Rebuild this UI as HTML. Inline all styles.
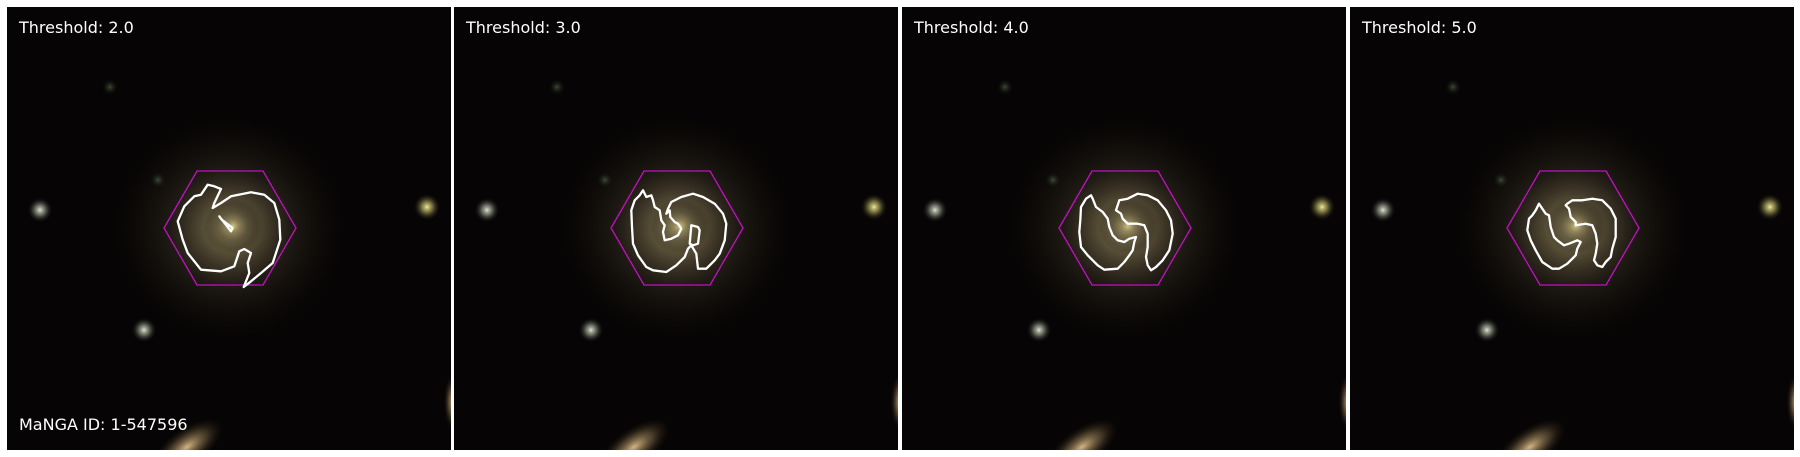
<!DOCTYPE html>
<html><head><meta charset="utf-8"><style>
html,body{margin:0;padding:0;background:#fff;width:1800px;height:457px;overflow:hidden}
svg{display:block}
text{font-family:"DejaVu Sans","Liberation Sans",sans-serif;fill:#fff;font-size:16px}
</style></head><body>
<svg id="fig" width="1800" height="457" viewBox="0 0 1800 457">
<defs>
<radialGradient id="gal" cx="0.5" cy="0.5" r="0.5">
<stop offset="0" stop-color="#d8cc88" stop-opacity="0.85"/>
<stop offset="0.2" stop-color="#8a7c56" stop-opacity="0.65"/>
<stop offset="0.5" stop-color="#3e3628" stop-opacity="0.45"/>
<stop offset="0.8" stop-color="#1e1812" stop-opacity="0.25"/>
<stop offset="1" stop-color="#100c0a" stop-opacity="0"/>
</radialGradient>
<radialGradient id="starW"><stop offset="0" stop-color="#e0e4d0"/><stop offset="0.4" stop-color="#8a9080" stop-opacity="0.7"/><stop offset="1" stop-color="#000" stop-opacity="0"/></radialGradient>
<radialGradient id="starY"><stop offset="0" stop-color="#f0ec98"/><stop offset="0.4" stop-color="#a09858" stop-opacity="0.7"/><stop offset="1" stop-color="#000" stop-opacity="0"/></radialGradient>
<radialGradient id="faint"><stop offset="0" stop-color="#4a5a40" stop-opacity="0.8"/><stop offset="1" stop-color="#000" stop-opacity="0"/></radialGradient>
<radialGradient id="edge"><stop offset="0" stop-color="#e0c088" stop-opacity="0.95"/><stop offset="0.5" stop-color="#7a6444" stop-opacity="0.55"/><stop offset="1" stop-color="#000" stop-opacity="0"/></radialGradient>
</defs>
</svg>
<script>
const thresholds = ["2.0","3.0","4.0","5.0"];
const mangaId = "1-547596";
const panelX = [7,454,902,1350];
// contour vertices (zoomed 3x coordinates), hex center at contourCenter
const contourCenter = [[687,685],[232,203],[232,203],[232,203]];
const contour1 = [[[600,585],[620,555],[640,560],[660,568],[640,610],[635,625],[660,610],[690,590],[750,578],[790,585],[820,610],[835,660],[838,720],[815,790],[780,820],[750,845],[728,862],[745,820],[740,790],[750,760],[730,748],[715,755],[700,800],[660,815],[600,810],[560,760],[545,720],[530,665],[550,620],[580,590]],
 [[655,650],[690,695],[695,685],[662,660]]];
const contour2 = [[[130,90],[120,105],[105,120],[95,150],[97,200],[100,250],[115,285],[140,320],[160,330],[200,335],[230,315],[255,290],[265,265],[275,255],[290,280],[295,325],[320,325],[345,300],[360,280],[375,240],[380,190],[370,160],[345,130],[310,110],[280,100],[245,110],[215,125],[205,145],[200,160],[210,150],[212,170],[225,185],[235,190],[245,205],[235,225],[215,235],[195,240],[190,215],[195,195],[185,180],[180,150],[165,140],[160,120],[155,105],[140,110]],
 [[275,195],[270,250],[280,255],[295,250],[300,210],[295,200]]];
const contour3 = [[[130,105],[115,115],[100,140],[98,180],[95,215],[100,260],[120,285],[150,315],[170,328],[210,325],[230,305],[245,285],[255,270],[260,245],[265,230],[245,235],[230,245],[210,240],[195,225],[185,200],[180,175],[165,155],[145,140],[135,115]],
 [[210,135],[205,150],[220,160],[225,175],[240,190],[270,190],[290,195],[300,220],[300,260],[295,290],[300,315],[310,330],[325,320],[345,300],[365,270],[375,220],[370,180],[355,150],[330,120],[300,105],[270,100],[240,115],[215,120]]];
const contour4 = [[[130,130],[120,150],[110,165],[100,175],[95,210],[105,240],[120,270],[140,305],[170,325],[190,325],[215,310],[240,285],[245,265],[255,245],[245,240],[220,250],[205,255],[185,240],[175,230],[165,200],[160,165],[150,160],[140,145]],
 [[210,135],[220,145],[225,170],[240,185],[240,195],[270,190],[290,195],[300,220],[305,250],[300,280],[295,300],[305,315],[320,320],[330,305],[345,290],[350,265],[360,230],[360,175],[345,145],[320,120],[290,115],[260,120],[230,120],[215,130]]];
const contours = [contour1,contour2,contour3,contour4];
const hexCenter = [223,221];
const hexHalfW = 66, hexHalfH = 57;

const NS="http://www.w3.org/2000/svg";
const svg=document.getElementById('fig');
function mk(tag,attrs,parent){const e=document.createElementNS(NS,tag);for(const k in attrs)e.setAttribute(k,attrs[k]);(parent||svg).appendChild(e);return e;}
const W=444,H=443,Y0=7;
thresholds.forEach((t,i)=>{
  const g=mk('g',{transform:`translate(${panelX[i]},${Y0})`});
  
  
  const inner=mk('svg',{x:0,y:0,width:W,height:H,overflow:'hidden'},g);
  const bg=mk('rect',{width:W,height:H,fill:'#060404'},inner);
  
  
  mk('ellipse',{cx:hexCenter[0],cy:hexCenter[1],rx:120,ry:115,fill:'url(#gal)'},inner);
  mk('ellipse',{cx:hexCenter[0]+3,cy:hexCenter[1]-2,rx:30,ry:28,fill:'url(#gal)'},inner);
  mk('circle',{cx:33,cy:203,r:13,fill:'url(#starW)'},inner);
  mk('circle',{cx:420,cy:200,r:14,fill:'url(#starY)'},inner);
  mk('circle',{cx:137,cy:323,r:13,fill:'url(#starW)'},inner);
  mk('circle',{cx:103,cy:80,r:9,fill:'url(#faint)'},inner);
  mk('circle',{cx:151,cy:173,r:9,fill:'url(#faint)'},inner);
  mk('ellipse',{cx:180,cy:440,rx:45,ry:20,fill:'url(#edge)',transform:'rotate(-35 180 440)'},inner);
  mk('ellipse',{cx:446,cy:395,rx:10,ry:30,fill:'url(#edge)'},inner);
  const cx=hexCenter[0],cy=hexCenter[1];
  const hp=[[cx-hexHalfW,cy],[cx-hexHalfW/2,cy-hexHalfH],[cx+hexHalfW/2,cy-hexHalfH],[cx+hexHalfW,cy],[cx+hexHalfW/2,cy+hexHalfH],[cx-hexHalfW/2,cy+hexHalfH]];
  const hex=mk('polygon',{points:hp.map(p=>p.join(',')).join(' '),fill:'none',stroke:'#c010c0','stroke-width':1.3},inner);
  
  
  const c=contourCenter[i];
  contours[i].forEach(loop=>{
    const d='M'+loop.map(p=>[(cx+(p[0]-c[0])/3).toFixed(1),(cy+(p[1]-c[1])/3).toFixed(1)].join(',')).join('L')+'Z';
    const pth=mk('path',{d:d,fill:'none',stroke:'#fff','stroke-width':2.3,'stroke-linejoin':'round'},inner);
    
    
  });
  const tt=mk('text',{x:12,y:26},g);tt.textContent='Threshold: '+t;
  
  
  if(i===0){const m=mk('text',{x:12,y:423},g);m.textContent='MaNGA ID: '+mangaId;
    
    }
});
</script>
</body></html>
